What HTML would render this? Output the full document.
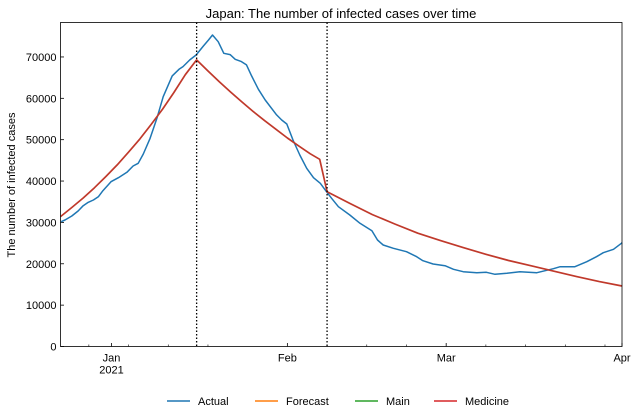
<!DOCTYPE html>
<html><head><meta charset="utf-8"><style>
body{margin:0;background:#fff;}
svg{display:block;font-family:"Liberation Sans","DejaVu Sans",sans-serif;}
</style></head><body>
<svg id="chart" width="638" height="418" viewBox="0 0 638 418" xmlns="http://www.w3.org/2000/svg"></svg>
<script>
// days since 2020-12-23
const actualDays=[0.1,0.8,2.0,3.1,4.0,4.9,5.8,6.7,7.5,8.9,10.2,11.7,12.8,13.7,14.6,15.8,17.0,18.1,19.7,20.9,21.6,22.8,23.9,25.2,26.1,26.8,27.8,28.8,29.9,30.8,31.9,32.8,33.7,34.9,36.1,38.1,39.0,39.9,41.0,42.2,43.4,44.6,45.8,46.9,47.8,49.0,51.0,52.8,54.9,55.9,56.9,58.7,61.0,62.8,63.9,65.7,67.8,69.3,71.0,73.4,75.1,76.6,78.7,81.0,84.0,86.9,88.1,90.7,92.8,94.5,95.7,97.5,98.9,99];
const actualVals=[30180,30590,31550,32760,34050,34860,35420,36230,37680,39850,40820,42110,43640,44290,46550,50340,55180,60400,65410,67020,67660,69280,70480,72660,74110,75320,73700,70890,70560,69440,68870,68070,65410,62190,59600,55980,54770,53800,49930,46300,43090,40820,39460,37430,35830,33800,31800,29790,28000,25750,24540,23740,22920,21710,20750,19950,19540,18670,18090,17850,17940,17460,17700,18090,17850,18810,19300,19300,20500,21710,22680,23500,24950,25100];
const modelDays=[0,2,4,6,8,10,12,14,16,18,20,22,24,26,28,30,32,34,36,38,40,42,44,45.7,47,51,55,59,63,67,71,75,79,83,87,91,95,99];
const modelVals=[31400,33600,35900,38400,41100,43900,47000,50200,53700,57400,61400,65700,69300,66600,64000,61500,59100,56800,54600,52500,50400,48500,46600,45260,37400,34600,31900,29600,27400,25600,23900,22300,20800,19500,18200,16900,15700,14630];
const yTicks=[0,10000,20000,30000,40000,50000,60000,70000];
const majorDays=[9,40,68,99];
const majorLabels=["Jan","Feb","Mar","Apr"];
const minorDays=[5,12,19,26,47,54,61,75,82,89,96];
const vlineDays=[24,47];
const legendNames=["Actual","Forecast","Main","Medicine"];
const legendColors=["#1f77b4","#ff7f0e","#2ca02c","#d62728"];

const L=60.5,R=622,T=22.5,B=346.5,DMAX=99,YMAX=78330;
const X=d=>L+(d/DMAX)*(R-L);
const Y=v=>B-(v/YMAX)*(B-T);
const svg=document.getElementById('chart');
const NS='http://www.w3.org/2000/svg';
function mk(tag,attrs,parent){const e=document.createElementNS(NS,tag);for(const k in attrs)e.setAttribute(k,attrs[k]);(parent||svg).appendChild(e);return e;}

let t=mk('text',{x:341,y:18,'font-size':13,'text-anchor':'middle',fill:'#000'});


t.textContent='Japan: The number of infected cases over time';

t=mk('text',{x:15,y:185,'font-size':11,'text-anchor':'middle',transform:'rotate(-90 15 185)',fill:'#000'});


t.textContent='The number of infected cases';

yTicks.forEach(v=>{
  const l=mk('line',{x1:L,x2:L+3.5,y1:Y(v),y2:Y(v),stroke:'#000','stroke-width':0.8});
  
  
  const tx=mk('text',{x:L-4,y:Y(v)+4,'font-size':11,'text-anchor':'end',fill:'#000'});
  
  
  tx.textContent=v;
});
majorDays.forEach((d,i)=>{
  const l=mk('line',{x1:X(d),x2:X(d),y1:B,y2:B-3.5,stroke:'#000','stroke-width':0.8});
  
  
  const tx=mk('text',{x:X(d),y:B+15,'font-size':11,'text-anchor':'middle',fill:'#000'});
  
  
  tx.textContent=majorLabels[i];
});
t=mk('text',{x:X(9),y:B+27,'font-size':11,'text-anchor':'middle',fill:'#000'});


t.textContent='2021';
minorDays.forEach(d=>{
  const l=mk('line',{x1:X(d),x2:X(d),y1:B,y2:B-2,stroke:'#000','stroke-width':0.6});
  
  
});

function pts(ds,vs){return ds.map((d,i)=>X(d).toFixed(1)+','+Y(vs[i]).toFixed(1)).join(' ');}
let p=mk('polyline',{points:pts(actualDays,actualVals),fill:'none',stroke:'#1f77b4','stroke-width':1.5,'stroke-linejoin':'round'});


p=mk('polyline',{points:pts(modelDays,modelVals),fill:'none',stroke:'#c0392b','stroke-width':1.7,'stroke-linejoin':'round'});



vlineDays.forEach(d=>{
  const l=mk('line',{x1:X(d),x2:X(d),y1:T,y2:B,stroke:'#000','stroke-width':1.3,'stroke-dasharray':'1.5,2'});
  
  
});

const frame=mk('rect',{x:L,y:T,width:R-L,height:B-T,fill:'none',stroke:'#000','stroke-width':0.8});



const lx=[167,255,355,434];
legendNames.forEach((n,i)=>{
  const g=mk('g',{});
  
  
  mk('line',{x1:lx[i],x2:lx[i]+23,y1:401,y2:401,stroke:legendColors[i],'stroke-width':1.5},g);
  const tx=mk('text',{x:lx[i]+31,y:405,'font-size':11,fill:'#000'},g);
  tx.textContent=n;
});
</script>
</body></html>
